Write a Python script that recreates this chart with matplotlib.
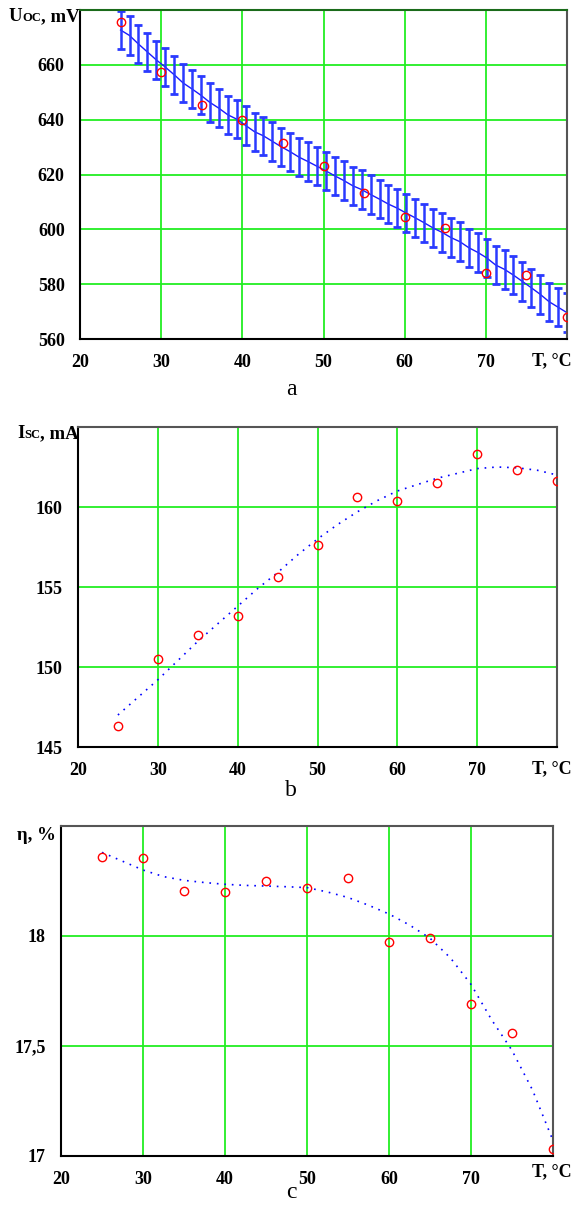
import numpy as np
import matplotlib
matplotlib.use("Agg")
import matplotlib.pyplot as plt

# measured points
T = [25, 30, 35, 40, 45, 50, 55, 60, 65, 70, 75, 80]
uoc = [675.7, 657.5, 645.5, 640.0, 631.4, 623.0, 613.2, 604.4, 600.4, 584.1, 583.3, 568.1]
isc = [146.3, 150.5, 152.0, 153.2, 155.65, 157.6, 160.6, 160.35, 161.5, 163.3, 162.3, 161.6]
eta = [18.361, 18.355, 18.205, 18.199, 18.249, 18.22, 18.264, 17.973, 17.99, 17.69, 17.557, 17.03]

# Uoc fit line with error bars
T_bar = [25.0, 26.1, 27.2, 28.3, 29.4, 30.5, 31.6, 32.7, 33.8, 34.9,
         36.0, 37.1, 38.2, 39.3, 40.4, 41.5, 42.6, 43.7, 44.8, 45.9,
         47.0, 48.1, 49.2, 50.3, 51.4, 52.5, 53.6, 54.7, 55.8, 56.9,
         58.0, 59.1, 60.2, 61.3, 62.4, 63.5, 64.6, 65.7, 66.8, 67.9,
         69.0, 70.1, 71.2, 72.3, 73.4, 74.5, 75.6, 76.7, 77.8, 78.9, 80.0]
uoc_fit = [672.7, 670.7, 667.6, 664.7, 661.8, 659.2, 656.4, 653.4, 651.2, 648.9,
           646.3, 644.2, 641.8, 640.2, 637.9, 635.6, 634.1, 632.1, 630.1, 628.3,
           626.3, 624.7, 623.0, 621.3, 619.5, 617.8, 615.9, 614.5, 612.7, 611.0,
           609.2, 607.7, 605.9, 604.2, 602.4, 600.5, 598.9, 597.0, 595.5, 593.3,
           591.6, 589.6, 587.0, 585.4, 583.3, 581.0, 578.7, 576.3, 573.6, 571.6, 569.6]
uoc_err = 7.0

# dotted trend curves
T_fit = [25, 27.5, 30, 32.5, 35, 37.5, 40, 42.5, 45, 47.5, 50, 52.5,
         55, 57.5, 60, 62.5, 65, 67.5, 70, 72.5, 75, 77.5, 80]
isc_fit = [147.0, 148.1, 149.2, 150.4, 151.6, 152.7, 153.8, 154.9, 155.9, 157.0, 158.0, 158.9,
           159.7, 160.4, 161.0, 161.4, 161.8, 162.1, 162.4, 162.5, 162.45, 162.3, 162.0]
eta_fit = [18.38, 18.34, 18.30, 18.27, 18.253, 18.243, 18.235, 18.23, 18.227, 18.224, 18.22, 18.20,
           18.175, 18.14, 18.10, 18.05, 17.99, 17.90, 17.78, 17.62, 17.48, 17.30, 17.07]

x_ticks = [20, 30, 40, 50, 60, 70]
a_ticks = [560, 580, 600, 620, 640, 660]
b_ticks = [145, 150, 155, 160]
c_ticks = [17, 17.5, 18]
c_labels = ["17", "17,5", "18"]

W, H = 573, 1209
fig = plt.figure(figsize=(W / 100, H / 100), dpi=100)

serif = "Liberation Serif"
green = "#22ee22"
tickfont = dict(family=serif, weight="bold", size=13)


def make_ax(l, r, t, b):
    return fig.add_axes([l / W, 1 - b / H, (r - l) / W, (b - t) / H])


def style(ax, ylim, yticks, ylabels=None):
    ax.set_xlim(20, 80)
    ax.set_ylim(*ylim)
    ax.set_xticks(x_ticks)
    ax.set_yticks(yticks)
    ax.set_xticklabels([str(v) for v in x_ticks], fontdict=tickfont)
    ax.set_yticklabels(ylabels if ylabels else [str(v) for v in yticks], fontdict=tickfont)
    ax.tick_params(length=0, pad=11)
    ax.tick_params(axis="y", pad=11)
    ax.grid(True, color=green, lw=1.3)
    ax.set_axisbelow(True)
    for s in ["left", "bottom"]:
        ax.spines[s].set_color("black")
        ax.spines[s].set_linewidth(1.5)
    for s in ["top", "right"]:
        ax.spines[s].set_color("#555555")
        ax.spines[s].set_linewidth(1.5)


def ylab(x, y, main, sub, rest):
    t1 = fig.text(x / W, 1 - y / H, main, family=serif, weight="bold", size=13.5, va="baseline")
    fig.canvas.draw()
    bb = t1.get_window_extent()
    t2 = fig.text(bb.x1 / W, 1 - y / H, sub, family=serif, weight="bold", size=9, va="baseline")
    fig.canvas.draw()
    bb2 = t2.get_window_extent()
    fig.text(bb2.x1 / W, 1 - y / H, rest, family=serif, weight="bold", size=13.5, va="baseline")


# panel a
ax1 = make_ax(80, 567, 10, 339)
style(ax1, (560, 680), a_ticks)
ax1.spines["top"].set_color("#1a6b1a")
ax1.plot(T_bar, uoc_fit, color="#1a1aff", lw=1)
eb = ax1.errorbar(T_bar, uoc_fit, yerr=uoc_err, fmt="none", ecolor="#2a3aff",
                  elinewidth=1.8, capsize=3, capthick=2)
for cap in eb[1]:
    cap.set_color("#111111")
ax1.plot(T, uoc, "o", mfc="none", mec="red", ms=6, mew=1, zorder=5)

# panel b
ax2 = make_ax(78, 557, 427, 747)
style(ax2, (145, 165), b_ticks)
ax2.plot(T_fit, isc_fit, color="blue", lw=1.2, ls=(0, (1, 3.5)))
ax2.plot(T, isc, "o", mfc="none", mec="red", ms=6, mew=1, zorder=5)

# panel c
ax3 = make_ax(61, 553, 826, 1156)
style(ax3, (17, 18.5), c_ticks, c_labels)
ax3.plot(T_fit, eta_fit, color="blue", lw=1.2, ls=(0, (1, 3.5)))
ax3.plot(T, eta, "o", mfc="none", mec="red", ms=6, mew=1, zorder=5)

# axis titles
ylab(9, 21, "U", "OC", ", mV")
ylab(17, 438, "I", "SC", ", mA")
fig.text(17 / W, 1 - 840 / H, "η, %", family=serif, weight="bold", size=13.5, va="baseline")
for y in [361, 769, 1172]:
    fig.text(572 / W, 1 - y / H, "T, °C", family=serif, weight="bold", size=13,
             ha="right", va="center")

# sub-figure captions
for y, s in [(390, "a"), (790, "b"), (1193, "c")]:
    fig.text(291 / W, 1 - y / H, s, family=serif, size=17, ha="center", va="center")

fig.savefig("out.png", dpi=100)
